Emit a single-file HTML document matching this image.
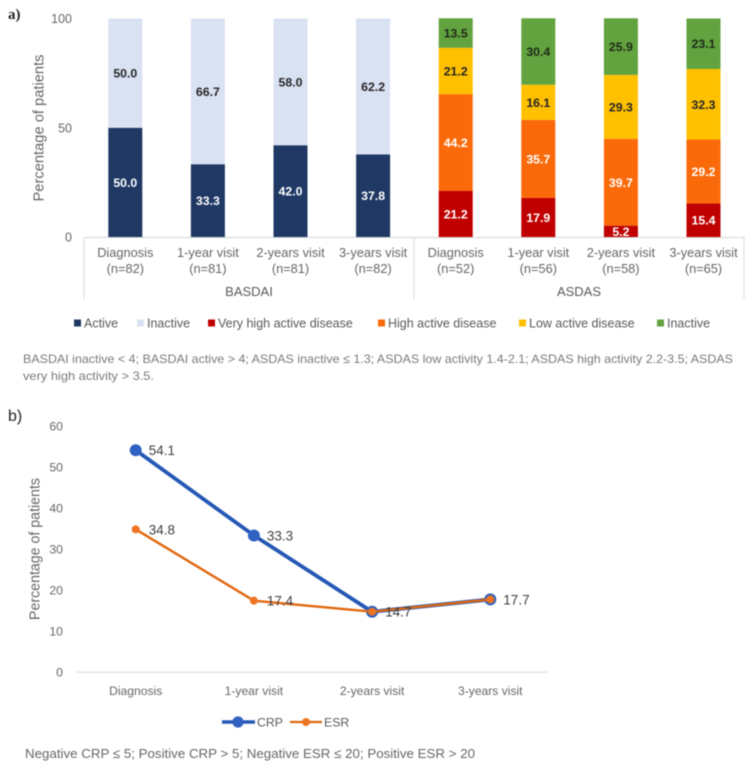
<!DOCTYPE html>
<html lang="en">
<head>
<meta charset="utf-8">
<title>Disease activity and inflammatory markers</title>
<style>
html,body{margin:0;padding:0;background:#fff;width:749px;height:767px;overflow:hidden}
svg{display:block;filter:blur(.45px)}
text{font-family:"Liberation Sans",sans-serif}
</style>
</head>
<body>
<svg id="figure" xmlns="http://www.w3.org/2000/svg" width="749" height="767" viewBox="0 0 749 767">
  <text x="8" y="19" style="font-family:'Liberation Serif',serif;font-weight:bold;font-size:15px" fill="#222">a)</text>
  <text x="8" y="421" font-size="16" fill="#222">b)</text>
  <text transform="translate(43.5,128) rotate(-90)" text-anchor="middle" font-size="14.7" fill="#666">Percentage of patients</text>
  <text transform="translate(39.5,549) rotate(-90)" text-anchor="middle" font-size="14.5" fill="#666" textLength="142" lengthAdjust="spacingAndGlyphs">Percentage of patients</text>
  <g id="chart-a"></g>
  <g id="chart-b"></g>
  <text x="249" y="296" text-anchor="middle" font-size="13" fill="#595959">BASDAI</text>
  <text x="579" y="296" text-anchor="middle" font-size="13" fill="#595959">ASDAS</text>
  <text x="23" y="363" font-size="12" fill="#7a7a7a" textLength="710" lengthAdjust="spacingAndGlyphs">BASDAI inactive &lt; 4; BASDAI active &gt; 4; ASDAS inactive ≤ 1.3; ASDAS low activity 1.4-2.1; ASDAS high activity 2.2-3.5; ASDAS</text>
  <text x="23" y="380" font-size="12" fill="#7a7a7a" textLength="131" lengthAdjust="spacingAndGlyphs">very high activity &gt; 3.5.</text>
  <text x="25" y="758" font-size="13.3" fill="#666" textLength="450" lengthAdjust="spacingAndGlyphs">Negative CRP ≤ 5; Positive CRP &gt; 5; Negative ESR ≤ 20; Positive ESR &gt; 20</text>
</svg>
<script>
/* Chart a data */
var barTopLabels = ['Diagnosis','1-year visit','2-years visit','3-years visit','Diagnosis','1-year visit','2-years visit','3-years visit'];
var barSampleLabels = ['(n=82)','(n=81)','(n=81)','(n=82)','(n=52)','(n=56)','(n=58)','(n=65)'];
var basdaiActive = [50.0,33.3,42.0,37.8];
var basdaiInactive = [50.0,66.7,58.0,62.2];
var asdasVeryHigh = [21.2,17.9,5.2,15.4];
var asdasHigh = [44.2,35.7,39.7,29.2];
var asdasLow = [21.2,16.1,29.3,32.3];
var asdasInactive = [13.5,30.4,25.9,23.1];
var barTicks = [0,50,100];

/* Chart b data */
var lineCategories = ['Diagnosis','1-year visit','2-years visit','3-years visit'];
var crpValues = [54.1,33.3,14.7,17.7];
var esrValues = [34.8,17.4,14.7,17.7];
var lineTicks = [0,10,20,30,40,50,60];

var NS = 'http://www.w3.org/2000/svg';
function mk(parent, tag, attrs, txt) {
  var el = document.createElementNS(NS, tag);
  for (var k in attrs) el.setAttribute(k, attrs[k]);
  if (txt !== undefined) el.textContent = txt;
  parent.appendChild(el);
  return el;
}

/* ---------- chart a ---------- */
var gA = document.getElementById('chart-a');
function yA(v) { return 237 - v * 2.185; }
function xA(i) { return 125.3 + i * 82.6; }
var BAR_W = 34;

barTicks.forEach(function (t) {
  var el = mk(gA, 'text', {x: 72, y: yA(t) + 4.5, 'text-anchor': 'end', 'font-size': 12.5, fill: '#666'}, t);
  
  
});

var barStacks = [
  {values: basdaiActive, offset: 0, color: '#1f3864', label: '#ffffff'},
  {values: basdaiInactive, offset: 0, color: '#d9e2f3', label: '#262626'},
  {values: asdasVeryHigh, offset: 4, color: '#c00000', label: '#ffffff'},
  {values: asdasHigh, offset: 4, color: '#fb6a0a', label: '#ffffff'},
  {values: asdasLow, offset: 4, color: '#ffc000', label: '#262626'},
  {values: asdasInactive, offset: 4, color: '#62a33f', label: '#1e2a18'}
];
var stackBase = [0,0,0,0,0,0,0,0];
barStacks.forEach(function (s) {
  s.values.forEach(function (v, i) {
    var idx = i + s.offset;
    var base = stackBase[idx];
    var top = yA(base + v);
    var bottom = yA(base);
    var rect = mk(gA, 'rect', {x: xA(idx) - BAR_W / 2, y: top, width: BAR_W, height: bottom - top, fill: s.color});
    
    
    stackBase[idx] = base + v;
  });
});
stackBase = [0,0,0,0,0,0,0,0];
barStacks.forEach(function (s) {
  s.values.forEach(function (v, i) {
    var idx = i + s.offset;
    var base = stackBase[idx];
    var lab = mk(gA, 'text', {x: xA(idx), y: yA(base + v / 2) + 4.5, 'text-anchor': 'middle', 'font-size': 12.3, 'font-weight': 'bold', fill: s.label}, v.toFixed(1));
    
    
    stackBase[idx] = base + v;
  });
});

var axisA = mk(gA, 'line', {x1: 84, x2: 744, y1: 237.5, y2: 237.5, stroke: '#d4d4d4', 'stroke-width': 1});


[84, 414, 744].forEach(function (x) {
  var d = mk(gA, 'line', {x1: x, x2: x, y1: 237, y2: 299, stroke: '#d9d9d9', 'stroke-width': 1});
  
  
});
barTopLabels.forEach(function (c, i) {
  var a = mk(gA, 'text', {x: xA(i), y: 257, 'text-anchor': 'middle', 'font-size': 12.8, fill: '#666'}, c);
  
  
  var b = mk(gA, 'text', {x: xA(i), y: 273, 'text-anchor': 'middle', 'font-size': 12.8, fill: '#666'}, barSampleLabels[i]);
  
  
});

var legendNamesA = ['Active','Inactive','Very high active disease','High active disease','Low active disease','Inactive'];
var legendColorsA = ['#1f3864','#d9e2f3','#c00000','#fb6a0a','#ffc000','#62a33f'];
var legendSwatchX = [74,137,208,378,519,657];
legendNamesA.forEach(function (n, i) {
  var sw = mk(gA, 'rect', {x: legendSwatchX[i], y: 319.5, width: 7, height: 7, fill: legendColorsA[i]});
  
  
  var t = mk(gA, 'text', {x: legendSwatchX[i] + 10, y: 327.5, 'font-size': 12.5, fill: '#595959'}, n);
  
  
});

/* ---------- chart b ---------- */
var gB = document.getElementById('chart-b');
function yB(v) { return 672 - v * 4.1; }
function xB(i) { return 135.7 + i * 118.2; }

lineTicks.forEach(function (t) {
  var el = mk(gB, 'text', {x: 63, y: yB(t) + 4.5, 'text-anchor': 'end', 'font-size': 12.3, fill: '#666'}, t);
  
  
});
var axisB = mk(gB, 'line', {x1: 76.5, x2: 548, y1: 672.3, y2: 672.3, stroke: '#d9d9d9', 'stroke-width': 1});


lineCategories.forEach(function (c, i) {
  var el = mk(gB, 'text', {x: xB(i), y: 695, 'text-anchor': 'middle', 'font-size': 12.1, fill: '#666'}, c);
  
  
});

function pts(vals) {
  return vals.map(function (v, i) { return xB(i) + ',' + yB(v); }).join(' ');
}
var crpLine = mk(gB, 'polyline', {points: pts(crpValues), fill: 'none', stroke: '#2558b5', 'stroke-width': 3.8});


crpValues.forEach(function (v, i) {
  var c = mk(gB, 'circle', {cx: xB(i), cy: yB(v), r: 6, fill: '#2f62c0'});
  
  
});
var esrLine = mk(gB, 'polyline', {points: pts(esrValues), fill: 'none', stroke: '#e0680f', 'stroke-width': 2.4});


esrValues.forEach(function (v, i) {
  var c = mk(gB, 'circle', {cx: xB(i), cy: yB(v), r: 4, fill: '#ed7423'});
  
  
});
crpValues.forEach(function (v, i) {
  var t = mk(gB, 'text', {x: xB(i) + 13, y: yB(v) + 5, 'font-size': 13.5, fill: '#404040'}, v.toFixed(1));
  
  
});
esrValues.forEach(function (v, i) {
  if (i > 1) return;
  var t = mk(gB, 'text', {x: xB(i) + 13, y: yB(v) + 5, 'font-size': 13.5, fill: '#404040'}, v.toFixed(1));
  
  
});

var crpKeyLine = mk(gB, 'line', {x1: 222, x2: 255, y1: 722, y2: 722, stroke: '#2558b5', 'stroke-width': 3.4});


var crpKeyDot = mk(gB, 'circle', {cx: 238, cy: 722, r: 5.6, fill: '#2f62c0'});


var crpKeyText = mk(gB, 'text', {x: 257, y: 726.5, 'font-size': 12.3, fill: '#595959'}, 'CRP');


var esrKeyLine = mk(gB, 'line', {x1: 290, x2: 322, y1: 722, y2: 722, stroke: '#e0680f', 'stroke-width': 2.2});


var esrKeyDot = mk(gB, 'circle', {cx: 306, cy: 722, r: 4, fill: '#ed7423'});


var esrKeyText = mk(gB, 'text', {x: 324, y: 726.5, 'font-size': 12.3, fill: '#595959'}, 'ESR');


</script>
</body>
</html>
